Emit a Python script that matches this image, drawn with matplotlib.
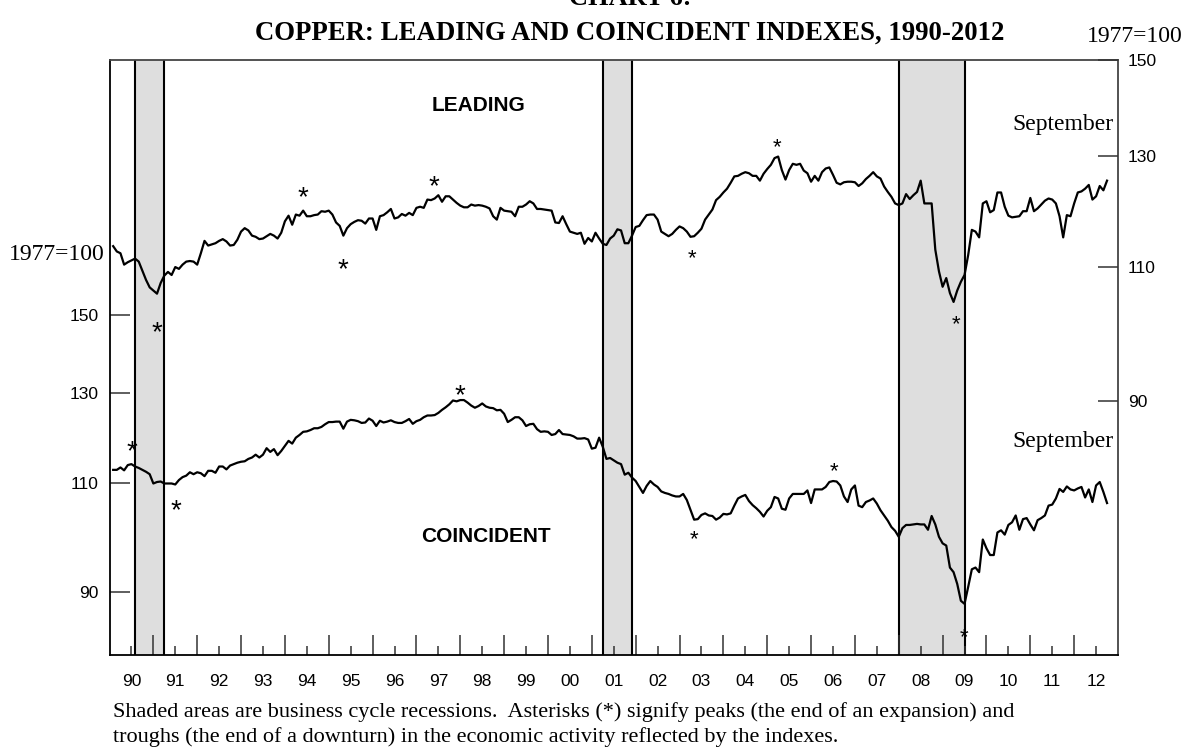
import numpy as np
import matplotlib.pyplot as plt
from matplotlib.ticker import NullLocator, NullFormatter

SANS = "Liberation Sans"
SERIF = "Liberation Serif"

START_YEAR = 1990

# monthly index values, Jan 1990 - Sep 2012 (1977=100)
leading = [
    113.5, 112.6, 112.3, 110.4, 110.8, 111.1, 111.4, 110.9, 109.4, 107.9, 106.7, 106.2,
    105.7, 107.4, 108.6, 109.2, 108.7, 110.0, 109.7, 110.4, 110.9, 111.0, 110.9, 110.4,
    112.3, 114.4, 113.6, 113.8, 114.0, 114.4, 114.7, 114.3, 113.6, 113.7, 114.6, 116.0,
    116.6, 116.2, 115.3, 115.1, 114.7, 114.8, 115.2, 115.6, 115.3, 114.8, 115.8, 117.8,
    118.8, 117.2, 119.0, 118.8, 119.7, 118.7, 118.7, 118.9, 119.0, 119.6, 119.5, 119.7,
    119.0, 117.6, 117.0, 115.3, 116.6, 117.3, 117.7, 118.0, 117.9, 117.4, 118.3, 118.3,
    116.3, 118.7, 118.9, 119.4, 120.0, 118.3, 118.5, 119.1, 118.8, 119.3, 118.9, 120.2,
    120.4, 120.2, 121.7, 121.6, 121.9, 122.5, 121.3, 122.3, 122.3, 121.7, 121.1, 120.6,
    120.3, 120.3, 120.8, 120.6, 120.7, 120.6, 120.4, 120.1, 118.7, 118.1, 120.2, 119.7,
    119.6, 119.5, 118.7, 120.4, 120.4, 120.8, 121.4, 121.0, 120.0, 120.0, 119.9, 119.8,
    119.7, 117.6, 117.5, 118.7, 117.3, 116.0, 115.8, 115.6, 115.8, 113.9, 114.9, 114.3,
    115.8, 114.8, 113.9, 113.7, 114.8, 115.3, 116.4, 116.2, 114.0, 114.0, 115.3, 116.8,
    117.0, 118.0, 118.9, 119.0, 119.0, 118.1, 116.0, 115.6, 115.2, 115.6, 116.3, 116.9,
    116.6, 116.0, 115.1, 115.2, 115.8, 116.5, 118.1, 119.0, 119.9, 121.6, 122.2, 123.0,
    123.7, 124.8, 126.0, 126.1, 126.5, 126.8, 126.6, 126.1, 126.1, 125.2, 126.5, 127.4,
    128.2, 129.5, 129.8, 127.2, 125.4, 127.2, 128.4, 128.2, 128.4, 127.1, 126.6, 125.0,
    126.1, 125.2, 126.8, 127.5, 127.7, 126.3, 124.8, 124.5, 124.9, 125.0, 125.0, 124.9,
    124.2, 124.7, 125.5, 126.1, 126.8, 126.0, 125.6, 124.1, 123.1, 122.2, 121.0, 120.7,
    121.0, 122.7, 121.8, 122.5, 123.1, 125.2, 121.0, 121.0, 121.0, 112.9, 109.3, 106.8,
    108.2, 105.8, 104.4, 106.2, 107.6, 108.7, 112.0, 116.3, 116.0, 115.0, 121.0, 121.4,
    119.4, 119.8, 123.0, 123.0, 120.4, 118.8, 118.5, 118.6, 118.7, 119.6, 119.6, 122.0,
    119.6, 120.1, 120.8, 121.5, 121.9, 121.7, 121.0, 118.7, 115.0, 118.9, 118.7, 121.0,
    123.0, 123.2, 123.7, 124.4, 121.7, 122.3, 124.2, 123.4, 125.2,
]

coincident = [
    112.7, 112.7, 113.2, 112.6, 113.7, 113.9, 113.4, 113.1, 112.7, 112.3, 111.8, 109.9,
    110.2, 110.3, 109.9, 109.9, 109.9, 109.7, 110.6, 111.2, 111.5, 112.2, 111.8, 112.2,
    112.0, 111.4, 112.5, 112.5, 112.1, 113.4, 113.4, 112.8, 113.6, 113.9, 114.2, 114.4,
    114.5, 115.0, 115.3, 115.9, 115.3, 115.9, 117.3, 116.5, 117.1, 115.8, 116.7, 117.8,
    118.9, 118.3, 119.6, 120.2, 120.9, 121.0, 121.3, 121.7, 121.7, 122.0, 122.6, 123.1,
    123.1, 123.2, 123.2, 121.6, 123.2, 123.6, 123.5, 123.3, 122.9, 123.0, 123.9, 123.4,
    122.2, 123.4, 123.0, 123.2, 123.5, 123.1, 122.9, 122.9, 123.3, 123.8, 122.7, 123.3,
    123.6, 124.2, 124.6, 124.6, 124.7, 125.2, 125.9, 126.5, 127.2, 128.1, 127.9, 128.2,
    128.2, 127.6, 126.9, 126.4, 126.8, 127.4, 126.7, 126.4, 126.3, 125.8, 125.9, 125.0,
    123.1, 123.6, 124.2, 124.2, 123.5, 122.2, 122.6, 122.7, 121.5, 120.9, 121.0, 120.9,
    120.2, 120.4, 121.3, 120.4, 120.3, 120.2, 119.9, 119.4, 119.4, 119.5, 119.2, 117.2,
    117.4, 119.6, 117.6, 115.0, 115.2, 114.7, 114.2, 113.9, 111.7, 112.1, 111.1, 110.4,
    109.2, 108.0, 109.4, 110.4, 109.7, 109.2, 108.3, 108.0, 107.8, 107.5, 107.3, 107.3,
    107.8, 106.6, 104.7, 102.8, 102.9, 103.7, 104.0, 103.6, 103.5, 102.8, 103.2, 103.9,
    103.8, 104.0, 105.5, 106.9, 107.3, 107.6, 106.4, 105.6, 105.0, 104.3, 103.4, 104.5,
    105.2, 107.2, 106.9, 104.9, 104.7, 106.9, 107.8, 107.8, 107.8, 107.8, 108.5, 106.0,
    108.7, 108.7, 108.7, 109.2, 110.2, 110.4, 110.3, 109.5, 107.3, 106.2, 108.7, 109.5,
    105.5, 105.2, 106.2, 106.5, 106.9, 105.9, 104.6, 103.6, 102.6, 101.4, 100.7, 99.6,
    101.2, 101.8, 101.8, 101.9, 102.0, 101.9, 101.9, 100.9, 103.5, 101.9, 99.6, 98.4,
    98.0, 94.1, 93.3, 91.3, 88.5, 88.0, 90.8, 93.8, 94.1, 93.3, 99.1, 97.5,
    96.3, 96.3, 100.4, 100.8, 100.0, 101.8, 102.3, 103.6, 100.9, 102.9, 103.1, 101.9,
    100.8, 102.7, 103.1, 103.6, 105.5, 105.7, 106.9, 108.8, 108.2, 109.3, 108.7, 108.5,
    108.9, 109.2, 107.1, 108.7, 106.2, 109.5, 110.2, 108.2, 106.0,
]

recessions = [("1990-07", "1991-03"), ("2001-03", "2001-11"), ("2007-12", "2009-06")]

# peaks and troughs marked with asterisks (month index, index value)
leading_turn_months = [11.9, 52.0, 62.9, 87.8, 158.4, 181.6, 230.6]
leading_turn_values = [100.9, 123.6, 111.0, 125.6, 112.6, 132.9, 102.0]
coincident_turn_months = [5.1, 17.1, 94.9, 159.0, 197.4, 232.9]
coincident_turn_values = [118.4, 106.2, 131.3, 100.4, 113.9, 83.7]

y_ticks = [90, 110, 130, 150]
year_labels = [f"{y % 100:02d}" for y in range(1990, 2013)]

FOOTNOTE_1 = ("Shaded areas are business cycle recessions.  Asterisks (*) signify peaks "
              "(the end of an expansion) and")
FOOTNOTE_2 = ("troughs (the end of a downturn) in the economic activity reflected "
              "by the indexes.")


def month_index(s):
    y, m = s.split("-")
    return (int(y) - START_YEAR) * 12 + int(m) - 1


def mark_turns(axis, months, values):
    # older turning points are printed with a larger asterisk
    for m, v in zip(months, values):
        fs = 20 if m < 120 else 16
        axis.annotate("*", xy=(m, v), xytext=(0, -0.32 * fs), textcoords="offset points",
                      ha="center", va="center", fontsize=fs, family=SANS, zorder=5)


fig = plt.figure(figsize=(11.87, 7.51), dpi=100)
ax = fig.add_axes([109.5 / 1187, 96 / 751, 1008.5 / 1187, 595 / 751])
ax2 = ax.twinx()

months = np.arange(len(leading))

for start, end in recessions:
    s, e = month_index(start), month_index(end)
    ax.axvspan(s, e, color="#dedede", lw=0, zorder=0)
    ax.axvline(s, color="black", lw=1.5, zorder=1)
    ax.axvline(e, color="black", lw=1.5, zorder=1)

ax.plot(months, coincident, color="black", lw=1.6, zorder=3)
ax2.plot(months, leading, color="black", lw=1.6, zorder=3)

ax.set_xlim(-1, 275)
ax.set_yscale("log")
ax.set_ylim(80.07, 240.2)
ax2.set_yscale("log")
ax2.set_ylim(61.52, 150)

# bottom axis: long ticks at year ends, short ticks + labels mid-year
ax.set_xticks(np.arange(11, 275, 12))
ax.xaxis.set_major_formatter(NullFormatter())
ax.set_xticks(np.arange(5, 275, 12), labels=year_labels, minor=True)
ax.tick_params(axis="x", which="major", direction="in", length=14.4, width=1.1,
               color="#333333", top=False)
ax.tick_params(axis="x", which="minor", direction="in", length=6.5, width=1.1,
               color="#333333", labelsize=12.5, pad=13.5, top=False)

ax.set_yticks(y_ticks, labels=[str(t) for t in y_ticks])
ax.yaxis.set_minor_locator(NullLocator())
ax.tick_params(axis="y", which="major", direction="in", length=14.4, width=1.1,
               color="#333333", labelsize=12.5, pad=8, right=False)

ax2.set_yticks(y_ticks, labels=[str(t) for t in y_ticks])
ax2.yaxis.set_minor_locator(NullLocator())
ax2.tick_params(axis="y", which="major", direction="in", length=14.4, width=1.1,
                color="#333333", labelsize=12.5, pad=7.2)

for lab in ax.get_xticklabels(minor=True) + ax.get_yticklabels() + ax2.get_yticklabels():
    lab.set_family(SANS)

for side in ["left", "bottom", "top", "right"]:
    ax.spines[side].set_linewidth(1.3)
    ax.spines[side].set_color("black")
ax.spines["right"].set_color("#444444")
ax.spines["top"].set_color("#444444")
for side in ax2.spines:
    ax2.spines[side].set_visible(False)

mark_turns(ax2, leading_turn_months, leading_turn_values)
mark_turns(ax, coincident_turn_months, coincident_turn_values)

ax.text(0.366, 0.9227, "LEADING", transform=ax.transAxes, ha="center", va="center",
        fontsize=15, fontweight="bold", family=SANS)
ax.text(0.3733, 0.1988, "COINCIDENT", transform=ax.transAxes, ha="center", va="center",
        fontsize=15, fontweight="bold", family=SANS)
ax.text(0.9953, 0.8908, "September", transform=ax.transAxes, ha="right", va="center",
        fontsize=17, family=SERIF)
ax.text(0.9953, 0.358, "September", transform=ax.transAxes, ha="right", va="center",
        fontsize=17, family=SERIF)

fig.text(105 / 1187, 1 - 255 / 751, "1977=100", ha="right", va="center",
         fontsize=17, family=SERIF)
fig.text(1183 / 1187, 1 - 36 / 751, "1977=100", ha="right", va="center",
         fontsize=17, family=SERIF)
fig.text(630 / 1187, 1 - 5 / 751, "CHART 6:", ha="center", va="baseline",
         fontsize=19, fontweight="bold", family=SERIF)
fig.text(630 / 1187, 1 - 33 / 751, "COPPER: LEADING AND COINCIDENT INDEXES, 1990-2012",
         ha="center", va="center", fontsize=19.3, fontweight="bold", family=SERIF)

fig.text(112.7 / 1187, 1 - 711.7 / 751, FOOTNOTE_1, ha="left", va="center",
         fontsize=16, family=SERIF)
fig.text(112.7 / 1187, 1 - 736.7 / 751, FOOTNOTE_2, ha="left", va="center",
         fontsize=16, family=SERIF)

fig.savefig("out.png", dpi=100)
